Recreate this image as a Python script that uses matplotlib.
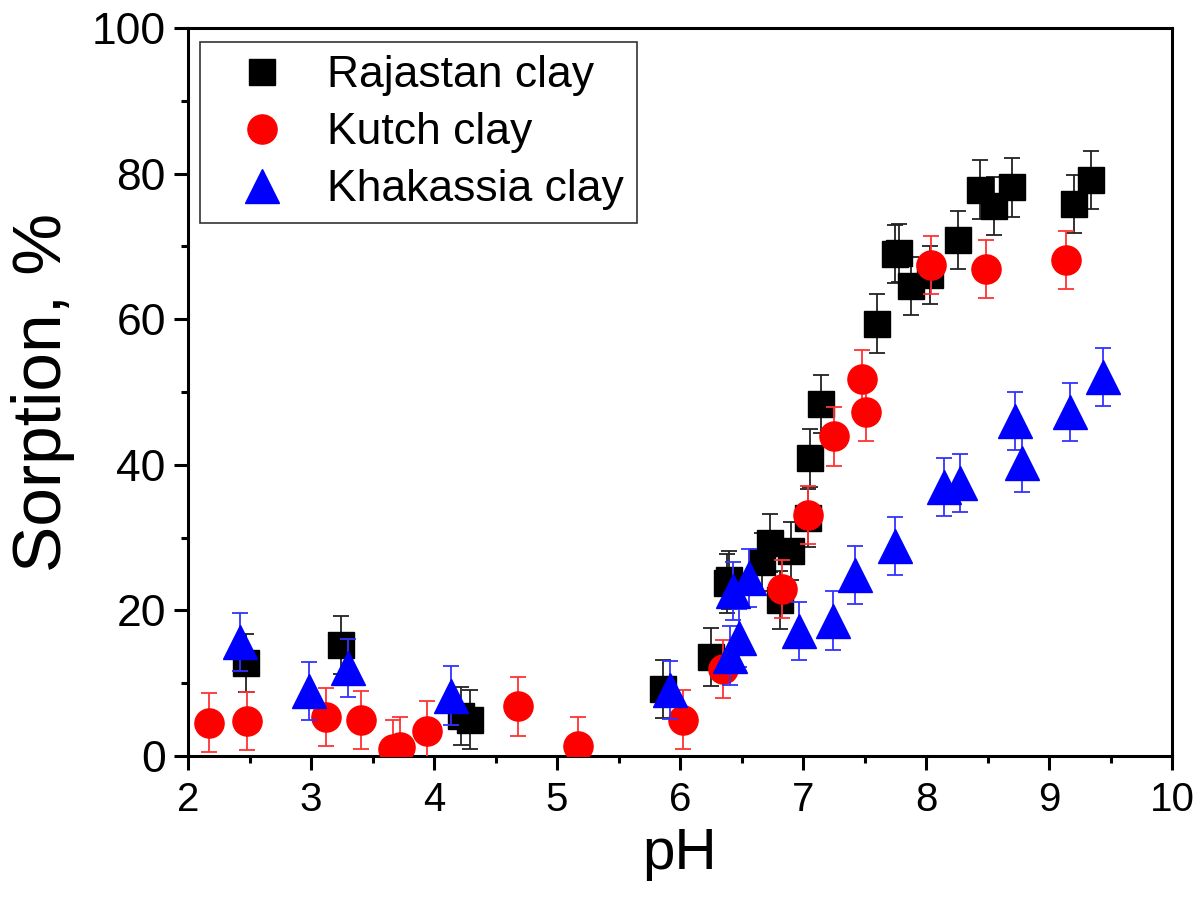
import matplotlib
matplotlib.use("Agg")
import matplotlib.pyplot as plt
from matplotlib.ticker import MultipleLocator

plt.rcParams['font.family'] = ['Liberation Sans', 'DejaVu Sans']

# sorption vs pH, three clays, +/- error in %
raj_ph = [2.47, 3.24, 4.22, 4.29, 5.86, 6.25, 6.40, 6.38, 6.67, 6.73, 6.81, 6.90,
          7.04, 7.06, 7.15, 7.60, 7.75, 7.78, 7.88, 8.03, 8.26, 8.44, 8.55, 8.70,
          9.20, 9.34]
raj_sorp = [12.8, 15.2, 5.5, 5.0, 9.2, 13.6, 24.2, 23.7, 26.7, 29.3, 21.4, 28.2,
            32.7, 40.9, 48.4, 59.4, 69.0, 69.1, 64.6, 66.1, 70.9, 77.8, 75.5, 78.1,
            75.8, 79.1]
raj_err = [4.0] * len(raj_ph)

kut_ph = [2.17, 2.48, 3.12, 3.41, 3.67, 3.72, 3.94, 4.68, 5.17, 6.02, 6.35, 6.83,
          7.04, 7.25, 7.48, 7.51, 8.04, 8.49, 9.14]
kut_sorp = [4.6, 4.8, 5.4, 4.9, 1.0, 1.3, 3.5, 6.8, 1.4, 5.0, 11.9, 22.9,
            33.1, 43.9, 51.8, 47.2, 67.4, 66.9, 68.1]
kut_err = [4.0] * len(kut_ph)

kha_ph = [2.42, 2.98, 3.30, 4.14, 5.92, 6.41, 6.48, 6.43, 6.56, 6.97, 7.24, 7.42,
          7.75, 8.15, 8.28, 8.72, 8.78, 9.17, 9.44]
kha_sorp = [15.7, 8.9, 12.1, 8.3, 9.1, 13.8, 16.2, 22.7, 24.5, 17.2, 18.6, 24.9,
            28.8, 36.9, 37.5, 46.0, 40.2, 47.2, 52.1]
kha_err = [4.0] * len(kha_ph)

fig = plt.figure(figsize=(12, 9), dpi=100)
ax = fig.add_axes([0.1567, 0.16, 0.82, 0.8089])

series = [
    (raj_ph, raj_sorp, raj_err, 's', 'black', '#222222', 19, 'Rajastan clay'),
    (kut_ph, kut_sorp, kut_err, 'o', 'red', '#ff3333', 21, 'Kutch clay'),
    (kha_ph, kha_sorp, kha_err, '^', 'blue', '#3333ff', 24, 'Khakassia clay'),
]
handles = []
for i, (x, y, e, m, c, ec, ms, lab) in enumerate(series):
    ax.errorbar(x, y, yerr=e, fmt='none', ecolor=ec, elinewidth=1.3,
                capsize=6, capthick=1.3, zorder=3 + 2 * i)
    h, = ax.plot(x, y, ls='none', marker=m, ms=ms, color=c, mec=c,
                 label=lab, zorder=4 + 2 * i)
    handles.append(h)

ax.set_xlim(2, 10)
ax.set_ylim(0, 100)
ax.xaxis.set_major_locator(MultipleLocator(1))
ax.xaxis.set_minor_locator(MultipleLocator(0.5))
ax.yaxis.set_major_locator(MultipleLocator(20))
ax.yaxis.set_minor_locator(MultipleLocator(10))

for sp in ax.spines.values():
    sp.set_linewidth(2.2)
ax.tick_params(which='both', direction='out', width=2.2, top=False, right=False)
ax.tick_params(which='major', length=10)
ax.tick_params(which='minor', length=5)
ax.tick_params(axis='x', labelsize=29, pad=8)
ax.tick_params(axis='y', labelsize=32, pad=6)

ax.set_xlabel('pH', fontsize=42, labelpad=6)
ax.set_ylabel('Sorption, %', fontsize=50, labelpad=12)

leg = ax.legend(handles=handles, loc='upper left', bbox_to_anchor=(0.012, 0.981),
                borderaxespad=0, fontsize=32, frameon=True, fancybox=False,
                edgecolor='black', handletextpad=0.35, handlelength=2.2,
                labelspacing=0.36, borderpad=0.3, numpoints=1)
leg.get_frame().set_linewidth(1.2)

fig.savefig('out.png', dpi=100)
